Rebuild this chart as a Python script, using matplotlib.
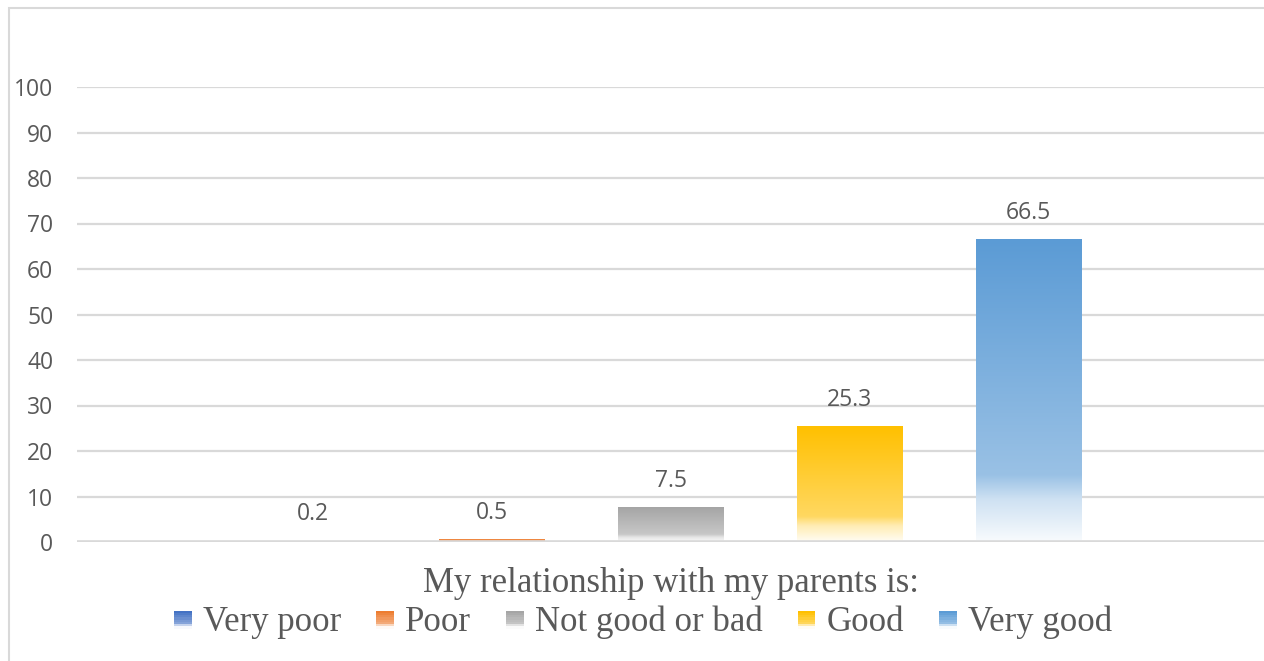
import numpy as np
import matplotlib
matplotlib.use('Agg')
import matplotlib.pyplot as plt
from matplotlib.patches import Rectangle
from matplotlib.colors import to_rgb
from matplotlib.legend_handler import HandlerBase

# Data
categories = ['Very poor', 'Poor', 'Not good or bad', 'Good', 'Very good']
values = [0.2, 0.5, 7.5, 25.3, 66.5]
colors = ['#4472C4', '#ED7D31', '#A5A5A5', '#FFC000', '#5B9BD5']
axis_title = 'My relationship with my parents is:'
yticks = list(range(0, 101, 10))

TEXT = '#595959'
GRID = '#d9d9d9'

# gradient profile: fraction of base colour (rest is white), top -> bottom
grad_t = [0.0, 0.78, 0.86, 1.0]
grad_m = [1.0, 0.62, 0.30, 0.04]


def gradient_rgba(color, n=200):
    t = np.linspace(0, 1, n)
    m = np.interp(t, grad_t, grad_m)
    c = np.array(to_rgb(color))
    rgb = m[:, None] * c[None, :] + (1 - m[:, None]) * 1.0
    img = np.ones((n, 1, 4))
    img[:, 0, :3] = rgb
    return img


fig = plt.figure(figsize=(12.64, 6.61), dpi=100)
ax = fig.add_axes([77 / 1264, 119 / 661, 1188 / 1264, 455 / 661])

x = np.arange(len(values))
width = 0.59
for xi, v, c in zip(x, values, colors):
    ax.imshow(gradient_rgba(c), extent=[xi - width / 2, xi + width / 2, 0, v],
              aspect='auto', interpolation='bilinear', zorder=3)
    ax.text(xi, v + 5.9, f'{v:g}', ha='center', va='center', fontsize=16.5,
            color=TEXT, family='Open Sans', zorder=4)

# axis line drawn over the bars, like the original
ax.axhline(0, color=GRID, linewidth=2.6, zorder=5)
ax.set_xlim(2 - 3.32, 2 + 3.32)
ax.set_ylim(0, 100)
ax.set_yticks(yticks)
ax.set_xticks([])
ax.grid(axis='y', color=GRID, linewidth=1.6, zorder=0)
ax.set_axisbelow(True)
for s in ax.spines.values():
    s.set_visible(False)
ax.tick_params(axis='y', length=0, pad=17, labelsize=16.5, labelcolor=TEXT)
for lab in ax.get_yticklabels():
    lab.set_family('Open Sans')

fig.text(671 / 1264, 1 - 583 / 661, axis_title, ha='center', va='center',
         fontsize=25, family='Liberation Serif', color=TEXT)


class GradHandler(HandlerBase):
    def create_artists(self, legend, orig_handle, xdescent, ydescent,
                       width, height, fontsize, trans):
        size = width
        x0 = xdescent
        y0 = -ydescent + (height - size) / 2 - 1
        n = 8
        img = gradient_rgba(orig_handle.get_facecolor(), n=n)
        arts = []
        for k in range(n):
            col = img[k, 0, :3]
            r = Rectangle((x0, y0 + size * (n - 1 - k) / n), size, size / n + 0.3,
                          facecolor=col, edgecolor='none', transform=trans)
            arts.append(r)
        return arts


handles = [Rectangle((0, 0), 1, 1, facecolor=c) for c in colors]
leg = fig.legend(handles, categories, loc='center', ncol=5,
                 bbox_to_anchor=(643 / 1264, 1 - 622 / 661), frameon=False,
                 handler_map={Rectangle: GradHandler()},
                 prop={'family': 'Liberation Serif', 'size': 25},
                 handlelength=0.5, handletextpad=0.32, columnspacing=1.02,
                 borderpad=0, borderaxespad=0)
for t in leg.get_texts():
    t.set_color(TEXT)

border = Rectangle((8.5 / 1264, -0.1), 1.2, 1.1 - 8.5 / 661,
                   transform=fig.transFigure, fill=False, edgecolor='#d9d9d9',
                   linewidth=1.5, clip_on=False)
fig.patches.append(border)

fig.savefig('out.png', dpi=100)
